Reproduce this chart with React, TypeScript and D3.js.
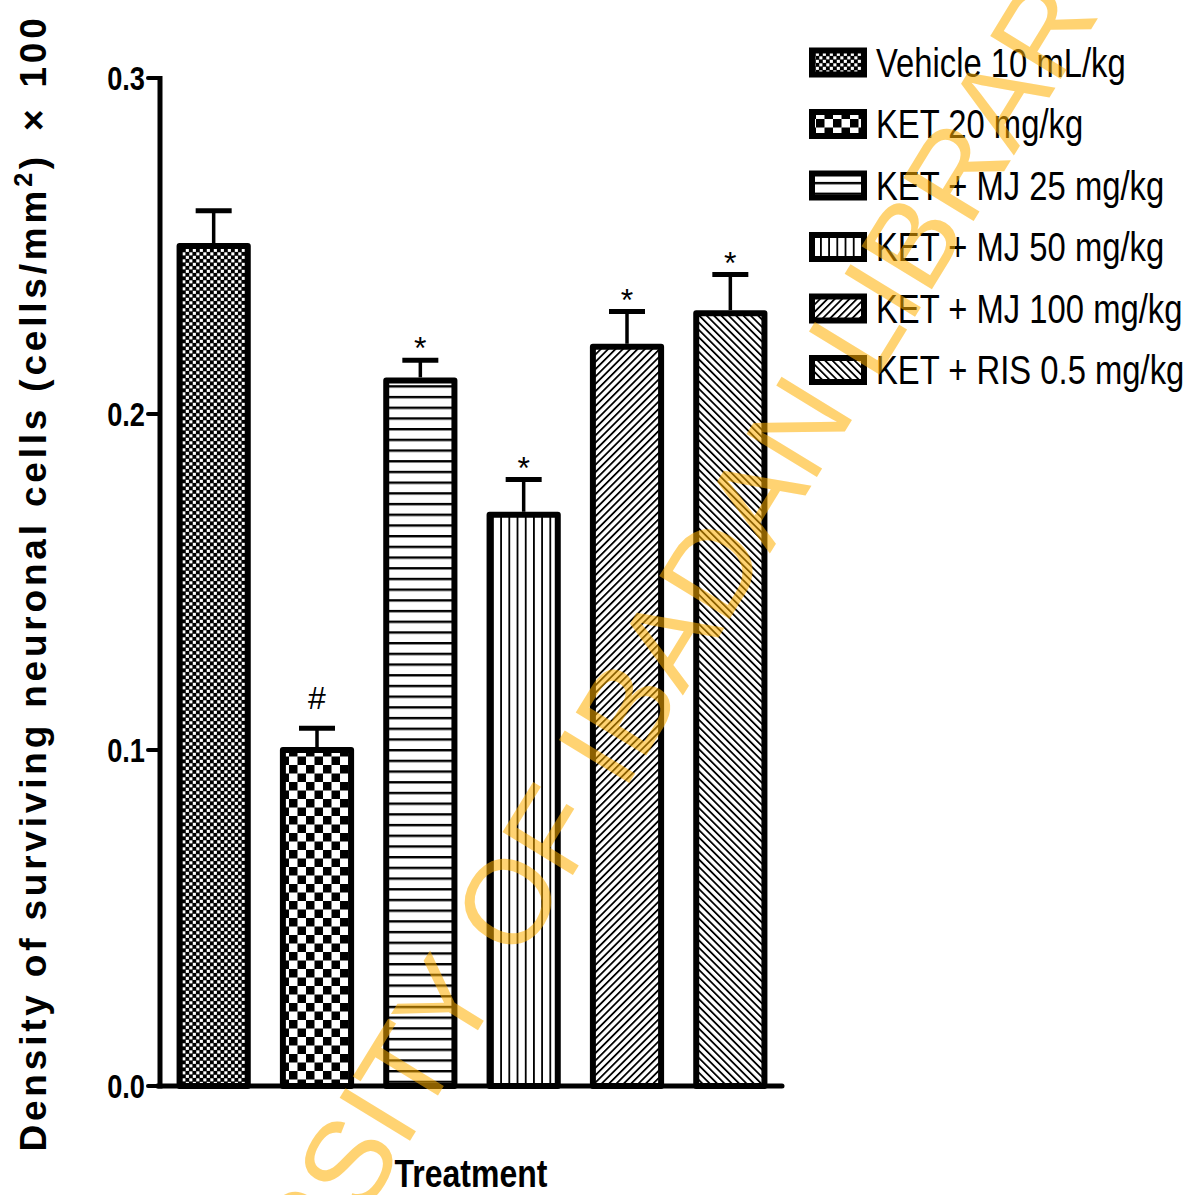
import React from "react";
import * as d3 from "d3";

const categories = [
  "Vehicle 10 mL/kg",
  "KET 20 mg/kg",
  "KET + MJ 25 mg/kg",
  "KET + MJ 50 mg/kg",
  "KET + MJ 100 mg/kg",
  "KET + RIS 0.5 mg/kg",
];
const means = [0.25, 0.1, 0.21, 0.17, 0.22, 0.23];
const sems = [0.0105, 0.0065, 0.006, 0.0105, 0.0105, 0.0115];
const marks = ["", "#", "*", "*", "*", "*"];
const yTicks = [0.0, 0.1, 0.2, 0.3];
const patternIds = ["pVeh", "pKet", "pH", "pV", "pD1", "pD2"];

const W = 1193;
const H = 1195;
const axisX = 160;
const axisY = 1086;
const topY = 78;

export default function App() {
  const y = d3.scaleLinear().domain([0, 0.3]).range([axisY, topY]);
  const x = d3
    .scaleBand<string>()
    .domain(categories)
    .range([axisX + 2, 782])
    .paddingInner(0.34)
    .paddingOuter(0.17);
  const bw = x.bandwidth();
  const font = "'Liberation Sans', Arial, sans-serif";
  const cond = 0.82;

  return (
    <svg width={W} height={H} style={{ display: "block", position: "absolute", left: 0, top: 0, background: "#fff" }}>
      <defs>
        <pattern id="pVeh" patternUnits="userSpaceOnUse" width={7} height={7}>
          <rect width={7} height={7} fill="#000" />
          <rect x={0.3} y={0.3} width={3.1} height={3.1} fill="#fff" />
          <rect x={3.8} y={3.8} width={3.1} height={3.1} fill="#fff" />
        </pattern>
        <pattern id="pKet" patternUnits="userSpaceOnUse" width={17} height={17}>
          <rect width={17} height={17} fill="#fff" />
          <rect x={0} y={0} width={8.5} height={8.5} fill="#000" />
          <rect x={8.5} y={8.5} width={8.5} height={8.5} fill="#000" />
        </pattern>
        <pattern id="pH" patternUnits="userSpaceOnUse" width={10} height={10.7}>
          <rect width={10} height={10.7} fill="#fff" />
          <rect x={0} y={0} width={10} height={2.4} fill="#000" />
        </pattern>
        <pattern id="pV" patternUnits="userSpaceOnUse" width={8.2} height={10}>
          <rect width={8.2} height={10} fill="#fff" />
          <rect x={0} y={0} width={1.8} height={10} fill="#000" />
        </pattern>
        <pattern id="pD1" patternUnits="userSpaceOnUse" width={5.2} height={10} patternTransform="rotate(45)">
          <rect width={5.2} height={10} fill="#fff" />
          <rect x={0} y={0} width={1.8} height={10} fill="#000" />
        </pattern>
        <pattern id="pD2" patternUnits="userSpaceOnUse" width={5.2} height={10} patternTransform="rotate(-45)">
          <rect width={5.2} height={10} fill="#fff" />
          <rect x={0} y={0} width={1.8} height={10} fill="#000" />
        </pattern>
      </defs>

      {/* Bars */}
      {categories.map((c, i) => {
        const x0 = x(c)!;
        const yt = y(means[i]);
        return (
          <rect
            key={c}
            x={x0}
            y={yt}
            width={bw}
            height={axisY - yt}
            fill={`url(#${patternIds[i]})`}
            stroke="#000"
            strokeWidth={6}
            strokeLinejoin="round"
          />
        );
      })}

      {/* Error bars */}
      {categories.map((c, i) => {
        const cx = x(c)! + bw / 2;
        const yt = y(means[i]);
        const ye = y(means[i] + sems[i]);
        return (
          <g key={"e" + c}>
            <line x1={cx} x2={cx} y1={yt - 3} y2={ye} stroke="#000" strokeWidth={3.5} />
            <line x1={cx - 18} x2={cx + 18} y1={ye} y2={ye} stroke="#000" strokeWidth={5} />
          </g>
        );
      })}

      {/* Significance marks */}
      {categories.map((c, i) => {
        if (!marks[i]) return null;
        const cx = x(c)! + bw / 2;
        const ye = y(means[i] + sems[i]);
        return (
          <text
            key={"m" + c}
            x={cx}
            y={marks[i] === "#" ? ye - 19 : ye - 1}
            textAnchor="middle"
            fontFamily={font}
            fontSize={32}
            fill="#000"
          >
            {marks[i]}
          </text>
        );
      })}

      {/* Axes */}
      <line x1={axisX} x2={axisX} y1={topY - 2} y2={axisY + 2.5} stroke="#000" strokeWidth={5} />
      <line x1={axisX - 2.5} x2={782} y1={axisY} y2={axisY} stroke="#000" strokeWidth={5} strokeLinecap="round" />
      {yTicks.map((t) => (
        <g key={"t" + t}>
          <line x1={axisX - 12} x2={axisX} y1={y(t)} y2={y(t)} stroke="#000" strokeWidth={4} strokeLinecap="round" />
          <text
            transform={`translate(${axisX - 15},${y(t) + 12}) scale(0.8,1)`}
            textAnchor="end"
            fontFamily={font}
            fontSize={34}
            fontWeight="bold"
            fill="#000"
          >
            {t.toFixed(1)}
          </text>
        </g>
      ))}

      {/* Axis titles */}
      <text
        transform={`translate(${(axisX + 782) / 2},1187) scale(${cond},1)`}
        textAnchor="middle"
        fontFamily={font}
        fontSize={39}
        fontWeight="bold"
        fill="#000"
      >
        Treatment
      </text>
      <text
        transform={`translate(46,583) rotate(-90)`}
        textAnchor="middle"
        fontFamily={font}
        fontSize={37}
        fontWeight="bold"
        letterSpacing={3.8}
        fill="#000"
      >
        Density of surviving neuronal cells (cells/mm
        <tspan dy={-14} fontSize={25}>2</tspan>
        <tspan dy={14}>)</tspan>
        <tspan dx={22}>{"\u00d7"}</tspan>
        <tspan dx={18}>100</tspan>
      </text>

      {/* Legend */}
      {categories.map((c, i) => {
        const cy = 62.5 + i * 61.5;
        return (
          <g key={"l" + c}>
            <rect x={812} y={cy - 12} width={52} height={24} fill={`url(#${patternIds[i]})`} stroke="#000" strokeWidth={6} />
            <text
              transform={`translate(876,${cy + 14}) scale(${cond},1)`}
              fontFamily={font}
              fontSize={40}
              fill="#000"
            >
              {c}
            </text>
          </g>
        );
      })}

      {/* Watermark */}
      <g transform="translate(519,963) rotate(-58.5)" fill="#FFB000" opacity={0.55} fontFamily={font} fontSize={120}>
        <text x={-33} textAnchor="end">UNIVERSITY</text>
        <text x={0}>OF IBADAN LIBRARY</text>
      </g>
    </svg>
  );
}
